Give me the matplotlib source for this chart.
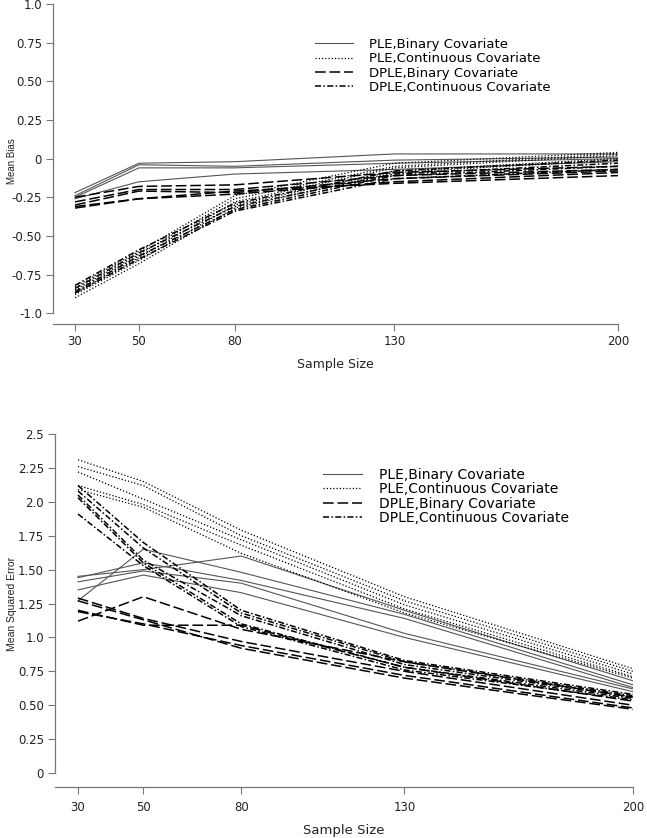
import matplotlib
matplotlib.use('Agg')
import matplotlib.pyplot as plt

plt.rcParams['font.family'] = ['DejaVu Sans']

sample_sizes = [30, 50, 80, 130, 200]

# Mean bias, one row per simulation setting
bias_ple_bin = [
    [-0.22, -0.03, -0.02, 0.03, 0.03],
    [-0.24, -0.04, -0.05, -0.01, 0.01],
    [-0.25, -0.06, -0.06, -0.03, 0.00],
    [-0.26, -0.15, -0.10, -0.07, -0.02],
]
bias_ple_cont = [
    [-0.83, -0.60, -0.24, -0.03, 0.04],
    [-0.85, -0.62, -0.26, -0.05, 0.03],
    [-0.87, -0.64, -0.28, -0.06, 0.02],
    [-0.88, -0.66, -0.30, -0.08, 0.00],
    [-0.90, -0.68, -0.32, -0.09, -0.01],
]
bias_dple_bin = [
    [-0.25, -0.18, -0.17, -0.09, -0.05],
    [-0.28, -0.20, -0.20, -0.11, -0.07],
    [-0.30, -0.21, -0.22, -0.13, -0.08],
    [-0.31, -0.26, -0.23, -0.15, -0.09],
    [-0.32, -0.26, -0.21, -0.16, -0.11],
]
bias_dple_cont = [
    [-0.82, -0.59, -0.29, -0.08, -0.01],
    [-0.84, -0.61, -0.31, -0.10, -0.03],
    [-0.86, -0.63, -0.33, -0.11, -0.05],
    [-0.87, -0.65, -0.34, -0.13, -0.07],
]

# Mean squared error
mse_ple_bin = [
    [1.27, 1.65, 1.48, 1.17, 0.65],
    [1.45, 1.50, 1.60, 1.20, 0.68],
    [1.44, 1.55, 1.42, 1.14, 0.63],
    [1.41, 1.49, 1.40, 1.03, 0.62],
    [1.35, 1.46, 1.33, 1.00, 0.60],
]
mse_ple_cont = [
    [2.31, 2.15, 1.79, 1.30, 0.77],
    [2.26, 2.12, 1.75, 1.27, 0.75],
    [2.22, 2.02, 1.72, 1.24, 0.73],
    [2.12, 1.98, 1.68, 1.21, 0.71],
    [2.09, 1.96, 1.62, 1.18, 0.70],
]
mse_dple_bin = [
    [1.12, 1.30, 1.06, 0.82, 0.56],
    [1.29, 1.14, 0.97, 0.75, 0.50],
    [1.20, 1.09, 1.09, 0.78, 0.53],
    [1.19, 1.10, 0.94, 0.72, 0.48],
    [1.27, 1.13, 0.92, 0.70, 0.47],
]
mse_dple_cont = [
    [2.12, 1.70, 1.20, 0.83, 0.58],
    [2.08, 1.66, 1.18, 0.82, 0.57],
    [2.05, 1.57, 1.16, 0.80, 0.56],
    [2.03, 1.55, 1.10, 0.78, 0.55],
    [1.91, 1.53, 1.08, 0.76, 0.54],
]

labels = ['PLE,Binary Covariate', 'PLE,Continuous Covariate',
          'DPLE,Binary Covariate', 'DPLE,Continuous Covariate']

bias_yticks = [1.0, 0.75, 0.5, 0.25, 0, -0.25, -0.5, -0.75, -1.0]
bias_yticklabels = ['1.0', '0.75', '0.50', '0.25', '0', '-0.25', '-0.50', '-0.75', '-1.0']
mse_yticks = [0, 0.25, 0.5, 0.75, 1.0, 1.25, 1.5, 1.75, 2.0, 2.25, 2.5]
mse_yticklabels = ['0', '0.25', '0.50', '0.75', '1.0', '1.25', '1.50', '1.75', '2.0', '2.25', '2.5']

styles = [
    dict(color='#555555', lw=0.8, linestyle='-'),
    dict(color='black', lw=0.9, dashes=(1, 1.6)),
    dict(color='black', lw=1.1, dashes=(7, 2.5)),
    dict(color='black', lw=1.1, dashes=(4, 1.5, 1, 1.5)),
]

W, H = 647, 838
fig = plt.figure(figsize=(W / 100, H / 100), dpi=100)


def px_axes(left, top, right, bottom):
    return fig.add_axes([left / W, 1 - bottom / H, (right - left) / W, (bottom - top) / H])


def style_axes(ax, yticks, yticklabels, ybounds, xpad):
    for s in ['top', 'right']:
        ax.spines[s].set_visible(False)
    for s in ['left', 'bottom']:
        ax.spines[s].set_color('#777777')
        ax.spines[s].set_linewidth(0.9)
    ax.spines['left'].set_bounds(*ybounds)
    ax.set_yticks(yticks)
    ax.set_yticklabels(yticklabels)
    ax.set_xticks(sample_sizes)
    ax.set_xticklabels([str(s) for s in sample_sizes])
    ax.tick_params(axis='both', direction='out', length=5, width=0.8, color='#777777',
                   labelsize=8.5, labelcolor='#222222')
    ax.tick_params(axis='x', pad=xpad)
    ax.tick_params(axis='y', pad=3)


def draw_groups(ax, groups):
    handles = []
    for rows, st in zip(groups, styles):
        for row in rows:
            h, = ax.plot(sample_sizes, row, **st)
        handles.append(h)
    return handles


# top panel: mean bias
ax1 = px_axes(53, 4, 618, 324)
h1 = draw_groups(ax1, [bias_ple_bin, bias_ple_cont, bias_dple_bin, bias_dple_cont])
ax1.set_xlim(23.1, 200)
ax1.set_ylim(-1.07, 1.0)
style_axes(ax1, bias_yticks, bias_yticklabels, (-1.0, 1.0), 3)
ax1.set_xlabel('Sample Size', fontsize=9, color='#222222', labelpad=7)
ax1.legend(h1, labels, loc='upper left', bbox_to_anchor=(315 / W, 1 - 38 / H),
           bbox_transform=fig.transFigure, frameon=False, fontsize=9.5,
           handlelength=2.9, handletextpad=1.2, labelspacing=0.1,
           borderpad=0, borderaxespad=0)
fig.text(12 / W, 1 - 161 / H, 'Mean Bias', rotation=90, ha='center', va='center',
         fontsize=7, family=['Liberation Sans', 'DejaVu Sans'], color='#222222')

# bottom panel: mean squared error
ax2 = px_axes(55, 434, 633, 787)
h2 = draw_groups(ax2, [mse_ple_bin, mse_ple_cont, mse_dple_bin, mse_dple_cont])
ax2.set_xlim(22.96, 200)
ax2.set_ylim(-0.103, 2.5)
style_axes(ax2, mse_yticks, mse_yticklabels, (0, 2.5), 5)
ax2.set_xlabel('Sample Size', fontsize=9.5, color='#222222', labelpad=7)
ax2.legend(h2, labels, loc='upper left', bbox_to_anchor=(323 / W, 1 - 468 / H),
           bbox_transform=fig.transFigure, frameon=False, fontsize=10,
           handlelength=2.8, handletextpad=1.2, labelspacing=0.02,
           borderpad=0, borderaxespad=0)
fig.text(12 / W, 1 - 604 / H, 'Mean Squared Error', rotation=90, ha='center', va='center',
         fontsize=7.5, family=['Liberation Sans', 'DejaVu Sans'], color='#222222')

fig.savefig('out.png', dpi=100)
